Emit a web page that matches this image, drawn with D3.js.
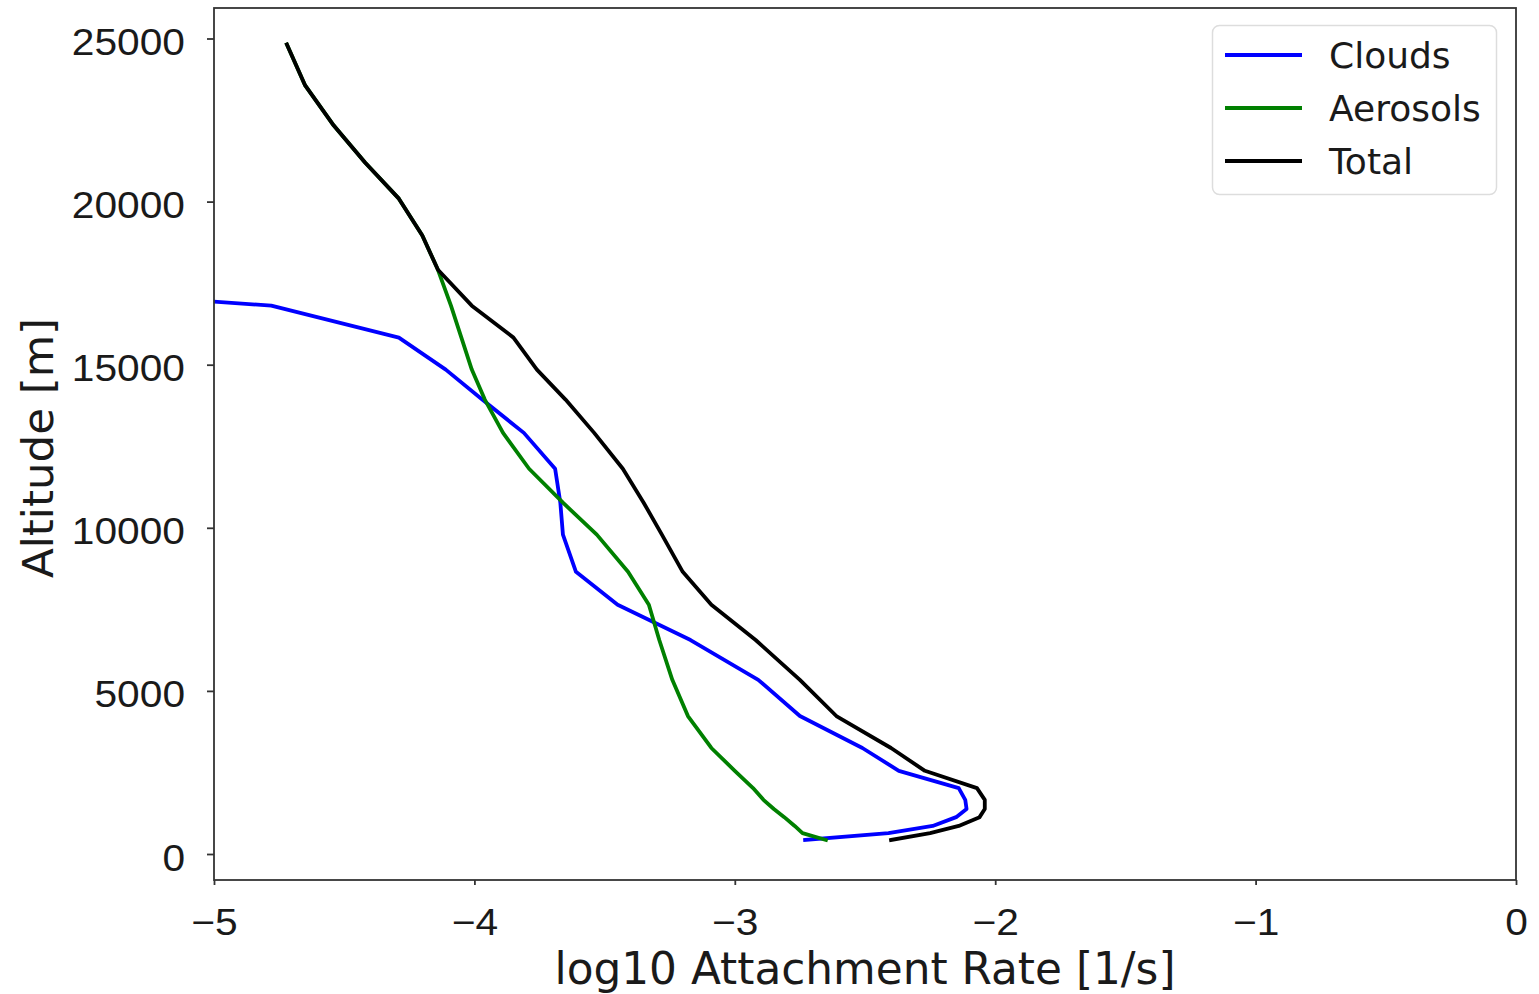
<!DOCTYPE html>
<html>
<head>
<meta charset="utf-8">
<script src="https://cdn.jsdelivr.net/npm/d3@7"></script>
<style>
  html, body { margin: 0; padding: 0; background: #ffffff; }
  svg { display: block; font-family: "DejaVu Sans", sans-serif; }
</style>
</head>
<body>
<svg id="chart" width="1539" height="994"></svg>
<script>
// Altitude levels [m], bottom to top
const altitude = [430, 640, 860, 1130, 1380, 1660, 2020, 2550, 3250, 4230, 5340, 6560, 7640,
  8650, 9790, 10770, 11810, 12910, 13930, 14850, 15830, 16810, 17910, 18960, 20090, 21200,
  22330, 23560, 24816];

// log10 attachment rate [1/s] on each level (null = no cloud contribution)
const clouds = [-2.73, -2.41, -2.24, -2.15, -2.11, -2.115, -2.14, -2.37, -2.51, -2.75, -2.91,
  -3.17, -3.45, -3.61, -3.66, -3.67, -3.69, -3.81, -3.97, -4.11, -4.29, -4.78, -6.72,
  null, null, null, null, null, null];
const aerosols = [-2.65, -2.74, -2.77, -2.81, -2.85, -2.89, -2.93, -3.00, -3.09, -3.18, -3.24,
  -3.29, -3.33, -3.41, -3.53, -3.66, -3.79, -3.89, -3.96, -4.01, -4.05, -4.09, -4.14,
  -4.20, -4.29, -4.42, -4.54, -4.65, -4.72];
const total = [-2.40, -2.25, -2.14, -2.06, -2.04, -2.04, -2.07, -2.27, -2.40, -2.61, -2.75,
  -2.92, -3.09, -3.20, -3.28, -3.35, -3.43, -3.54, -3.65, -3.76, -3.85, -4.01, -4.14,
  -4.20, -4.29, -4.42, -4.54, -4.65, -4.72];

const seriesNames = ["Clouds", "Aerosols", "Total"];
const seriesColors = ["#0000ff", "#008000", "#000000"];
const xTicks = [-5, -4, -3, -2, -1, 0];
const yTicks = [0, 5000, 10000, 15000, 20000, 25000];

const series = [clouds, aerosols, total].map((vals, i) => ({
  name: seriesNames[i],
  color: seriesColors[i],
  points: vals.map((v, j) => ({ x: v, y: altitude[j] }))
}));

// plot frame in page pixels
const frame = { left: 214, right: 1516, top: 8, bottom: 880 };

const x = d3.scaleLinear().domain([-5, 0]).range([frame.left, frame.right]);
const y = d3.scaleLinear().domain([-797, 25935]).range([frame.bottom, frame.top]);

const svg = d3.select("#chart");

svg.append("defs").append("clipPath").attr("id", "plot-clip")
  .append("rect")
  .attr("x", frame.left).attr("y", frame.top)
  .attr("width", frame.right - frame.left).attr("height", frame.bottom - frame.top);

// data lines
const line = d3.line()
  .defined(d => d.x !== null)
  .x(d => x(d.x))
  .y(d => y(d.y));

svg.append("g").attr("clip-path", "url(#plot-clip)")
  .selectAll("path")
  .data(series)
  .join("path")
  .attr("d", d => line(d.points))
  .attr("fill", "none")
  .attr("stroke", d => d.color)
  .attr("stroke-width", 3.8)
  .attr("stroke-linejoin", "round")
  .attr("stroke-linecap", "square");

// axes (tick labels are set slightly wide)
const tickFont = "37px";
function widen(sel, k) {
  sel.attr("lengthAdjust", "spacingAndGlyphs")
     .attr("textLength", function () { return this.getComputedTextLength() * k; });
}

const xAxis = svg.append("g")
  .attr("transform", `translate(0,${frame.bottom})`)
  .call(d3.axisBottom(x).tickValues(xTicks).tickSize(5).tickFormat(d3.format("d")));
xAxis.select(".domain").remove();
xAxis.selectAll(".tick line").attr("stroke", "#333").attr("stroke-width", 1.8);
xAxis.selectAll(".tick text")
  .attr("y", 55).attr("dy", null)
  .attr("fill", "#1a1a1a")
  .style("font-size", tickFont)
  .call(widen, 1.1);

const yAxis = svg.append("g")
  .attr("transform", `translate(${frame.left},0)`)
  .call(d3.axisLeft(y).tickValues(yTicks).tickSize(7).tickFormat(d3.format("d")));
yAxis.select(".domain").remove();
yAxis.selectAll(".tick line").attr("stroke", "#333").attr("stroke-width", 1.8);
yAxis.selectAll(".tick text")
  .attr("x", -29).attr("dy", 16)
  .attr("fill", "#1a1a1a")
  .style("font-size", tickFont)
  .call(widen, 1.1);

// frame
svg.append("rect")
  .attr("x", frame.left).attr("y", frame.top)
  .attr("width", frame.right - frame.left).attr("height", frame.bottom - frame.top)
  .attr("fill", "none")
  .attr("stroke", "#333")
  .attr("stroke-width", 1.8);

// axis titles
svg.append("text")
  .attr("x", (frame.left + frame.right) / 2).attr("y", 984)
  .attr("text-anchor", "middle")
  .attr("fill", "#1a1a1a")
  .style("font-size", "43.8px")
  .text("log10 Attachment Rate [1/s]");

svg.append("text")
  .attr("transform", `translate(53,${(frame.top + frame.bottom) / 2 + 4}) rotate(-90)`)
  .attr("text-anchor", "middle")
  .attr("fill", "#1a1a1a")
  .style("font-size", "43.5px")
  .text("Altitude [m]");

// legend
const legend = svg.append("g");
legend.append("rect")
  .attr("x", 1212.5).attr("y", 25.5)
  .attr("width", 284).attr("height", 169)
  .attr("rx", 7).attr("ry", 7)
  .attr("fill", "#ffffff").attr("fill-opacity", 0.8)
  .attr("stroke", "#dddddd").attr("stroke-width", 1.5);

const rowY = d3.scalePoint().domain(seriesNames).range([55, 161]);
const rows = legend.selectAll("g.row")
  .data(series)
  .join("g")
  .attr("class", "row")
  .attr("transform", d => `translate(0,${rowY(d.name)})`);
rows.append("line")
  .attr("x1", 1225).attr("x2", 1302)
  .attr("stroke", d => d.color)
  .attr("stroke-width", 3.8);
rows.append("text")
  .attr("x", 1329).attr("y", 13)
  .attr("fill", "#1a1a1a")
  .style("font-size", "36px")
  .text(d => d.name);
</script>
</body>
</html>
